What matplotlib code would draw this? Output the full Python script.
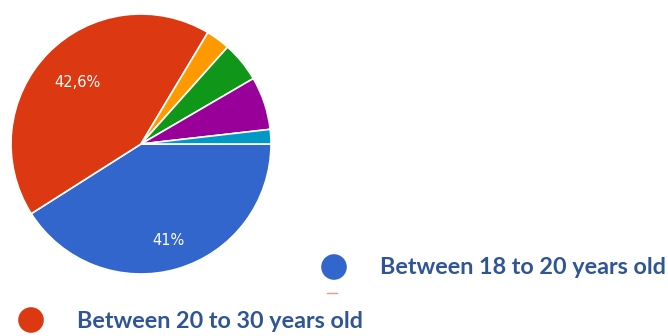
import numpy as np
import matplotlib.pyplot as plt

# =======================================
#   DATOS
# =======================================

grupos = ["Between 18 to 20 years old", "Between 20 to 30 years old",
          "Otro 1", "Otro 2", "Otro 3", "Otro 4"]
porcentajes = [41.0, 42.6, 3.0, 5.0, 6.6, 1.8]
etiquetas = ["41%", "42,6%", "", "", "", ""]
colores = ["#3366cc", "#dc3912", "#ff9900", "#109618", "#990099", "#0099c6"]

# solo las dos primeras categorias aparecen en la leyenda
leyenda_grupos = grupos[:2]
leyenda_colores = colores[:2]

W, H = 668, 336
fig = plt.figure(figsize=(W / 100, H / 100), dpi=100)

# =======================================
#   PIE
# =======================================
cx, cy, r = 141, 144, 130
ax = fig.add_axes([(cx - r) / W, (H - cy - r) / H, 2 * r / W, 2 * r / H])
wedges, _ = ax.pie(porcentajes, colors=colores, startangle=0, counterclock=False,
                   radius=1, wedgeprops=dict(edgecolor="white", linewidth=1.2))
ax.set_xlim(-1, 1)
ax.set_ylim(-1, 1)

# posiciones de las etiquetas a partir del angulo medio de cada sector
dist_etiqueta = [0.77, 0.68, 0, 0, 0, 0]
ang = 0.0
for p, lab, d in zip(porcentajes, etiquetas, dist_etiqueta):
    mid = ang - p / 100 * 360 / 2
    ang -= p / 100 * 360
    if lab:
        ax.text(d * np.cos(np.radians(mid)), d * np.sin(np.radians(mid)), lab,
                color="white", fontsize=10.5, ha="center", va="center",
                family="DejaVu Sans")

# =======================================
#   LEYENDA
# =======================================
ov = fig.add_axes([0, 0, 1, 1])
ov.set_xlim(0, W)
ov.set_ylim(H, 0)
ov.axis("off")

pos_leyenda = [(334, 267), (31, 320)]
for (x, y), nombre, col in zip(pos_leyenda, leyenda_grupos, leyenda_colores):
    ov.scatter([x], [y], s=340, color=col, edgecolors="none")
    ov.text(x + 46, y + 1, nombre, color="#2f5597", fontsize=16.8, fontweight="bold",
            ha="left", va="center", family="Lato")

# pequeña marca roja recortada bajo el marcador azul
ov.plot([327, 337], [293, 293], color="#dc3912", lw=1, alpha=0.5)

fig.savefig("out.png", dpi=100)
